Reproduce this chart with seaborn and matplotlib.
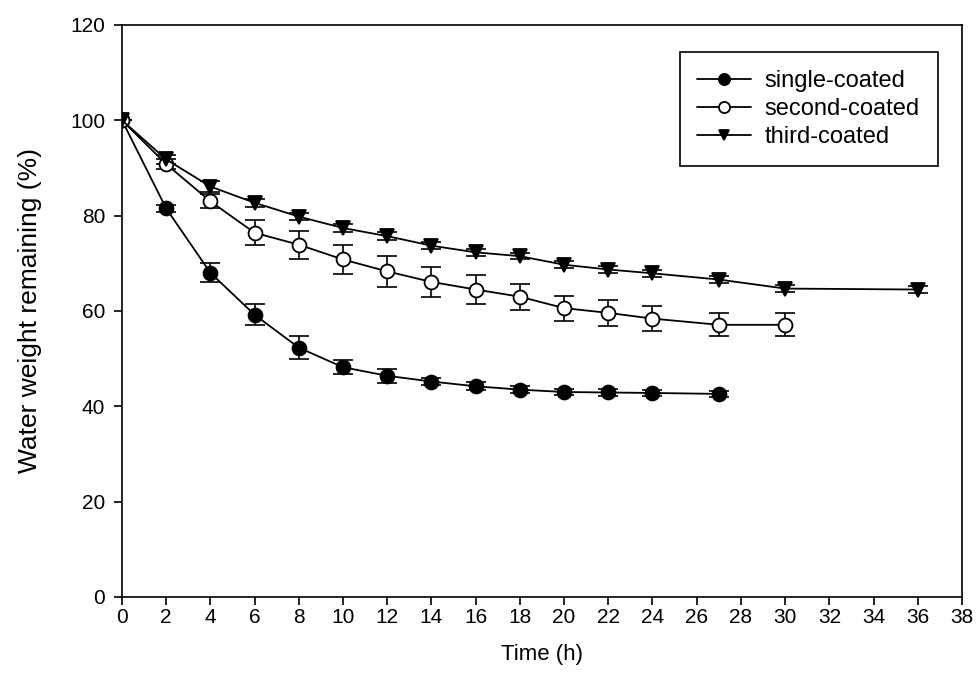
import pandas as pd
import matplotlib
matplotlib.use("Agg")
import matplotlib.pyplot as plt
import seaborn as sns

# data
single_t = [0, 2, 4, 6, 8, 10, 12, 14, 16, 18, 20, 22, 24, 27]
single_w = [100, 81.5, 68.0, 59.2, 52.3, 48.2, 46.4, 45.2, 44.2, 43.5, 43.0, 42.9, 42.8, 42.6]
single_e = [0, 0.8, 2.0, 2.2, 2.4, 1.5, 1.5, 0.8, 0.8, 0.8, 0.7, 0.7, 0.6, 0.6]

second_t = [0, 2, 4, 6, 8, 10, 12, 14, 16, 18, 20, 22, 24, 27, 30]
second_w = [100, 90.8, 83.0, 76.4, 73.9, 70.8, 68.3, 66.1, 64.5, 63.0, 60.6, 59.6, 58.4, 57.1, 57.1]
second_e = [0, 1.0, 1.5, 2.6, 2.9, 3.1, 3.2, 3.15, 3.05, 2.7, 2.6, 2.7, 2.6, 2.4, 2.4]

third_t = [0, 2, 4, 6, 8, 10, 12, 14, 16, 18, 20, 22, 24, 27, 30, 36]
third_w = [100, 91.8, 86.1, 82.7, 79.8, 77.4, 75.7, 73.7, 72.3, 71.5, 69.7, 68.7, 67.9, 66.6, 64.7, 64.5]
third_e = [0, 1.0, 1.2, 0.8, 0.8, 0.8, 0.8, 0.8, 0.7, 0.7, 0.7, 0.7, 0.7, 0.7, 0.7, 0.8]

sns.set_style("ticks")
plt.rcParams["font.family"] = ["Liberation Sans", "DejaVu Sans"]
plt.rcParams["text.color"] = "black"
plt.rcParams["axes.labelcolor"] = "black"

fig = plt.figure(figsize=(9.76, 6.88), dpi=100)
ax = fig.add_axes([0.125, 0.1323, 0.8606, 0.8314])

series = [
    ("single-coated", single_t, single_w, single_e, "o", "black", 10),
    ("second-coated", second_t, second_w, second_e, "o", "white", 10),
    ("third-coated", third_t, third_w, third_e, "v", "black", 9.5),
]

for name, t, w, e, mk, fc, ms in series:
    df = pd.DataFrame({"t": t, "w": w, "e": e})
    ax.errorbar(df["t"], df["w"], yerr=df["e"], fmt="none", ecolor="black",
                elinewidth=1.2, capsize=7, capthick=1.2, zorder=2)
    sns.lineplot(data=df, x="t", y="w", ax=ax, color="black", linewidth=1.3,
                 marker=mk, markersize=ms, markerfacecolor=fc,
                 markeredgecolor="black", markeredgewidth=1.3,
                 label=name, zorder=3)

ax.set_xlim(0, 38)
ax.set_ylim(0, 120)
ax.set_xticks(range(0, 39, 2))
ax.set_yticks(range(0, 121, 20))
ax.tick_params(axis="both", labelsize=15, direction="out", length=6, width=1.2,
               colors="black")
ax.tick_params(axis="x", pad=2)
ax.tick_params(axis="y", pad=6)
ax.tick_params(top=False, right=False)
for s in ax.spines.values():
    s.set_visible(True)
    s.set_color("black")
    s.set_linewidth(1.2)

ax.set_xlabel("Time (h)", fontsize=16, labelpad=12)
ax.set_ylabel("Water weight remaining (%)", fontsize=19, labelpad=20)

leg = ax.legend(loc="upper right", bbox_to_anchor=(0.971, 0.952), fontsize=17,
                frameon=True, fancybox=False, handlelength=2.25,
                borderpad=0.75, borderaxespad=0, labelspacing=0.25,
                handletextpad=0.6, markerscale=0.8)
leg.get_frame().set_edgecolor("black")
leg.get_frame().set_linewidth(1.2)
leg.get_frame().set_alpha(1)

plt.savefig("out.png", dpi=100)
